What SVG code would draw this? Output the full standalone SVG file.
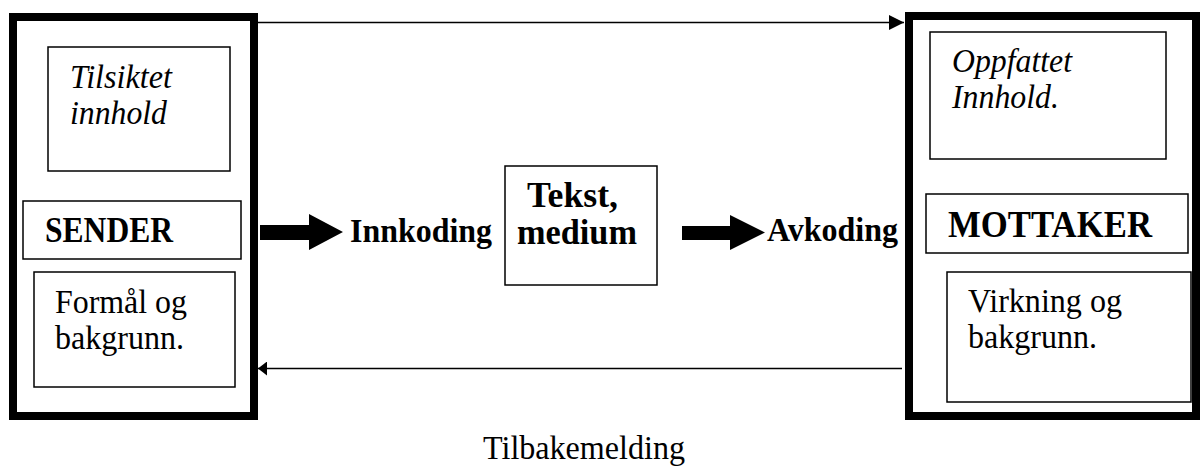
<svg xmlns="http://www.w3.org/2000/svg" width="1200" height="466" viewBox="0 0 1200 466">
<style>
.outer{fill:none;stroke:#000;stroke-width:8}
.box{fill:#fff;stroke:#000;stroke-width:1.5}
.t{font-family:"Liberation Serif","Times New Roman",serif;font-size:34px;fill:#000}
.i{font-style:italic}
.b{font-weight:bold}
.thin{stroke:#000;stroke-width:1.5;fill:none}
</style>
<defs>
<marker id="ah" markerWidth="15" markerHeight="15" refX="15" refY="7.5" orient="auto" markerUnits="userSpaceOnUse">
<path d="M0,0 L15,7.5 L0,15 Z" fill="#000"/>
</marker>
<marker id="ahs" markerWidth="9" markerHeight="14" refX="9" refY="7" orient="auto" markerUnits="userSpaceOnUse">
<path d="M0,0 L9,7 L0,14 Z" fill="#000"/>
</marker>
</defs>
<rect width="1200" height="466" fill="#fff"/>
<g id="sender">
<rect class="outer" x="13" y="17" width="241" height="399"/>
<g id="tilsiktet">
<rect class="box" x="48" y="47" width="182" height="124"/>
<text class="t i" x="70" y="88" textLength="102" lengthAdjust="spacingAndGlyphs">Tilsiktet</text>
<text class="t i" x="70" y="124" textLength="97" lengthAdjust="spacingAndGlyphs">innhold</text>
</g>
<g id="sender-label">
<rect class="box" x="23" y="201" width="218" height="58"/>
<text class="t b" x="45" y="242" style="font-size:35px" textLength="128" lengthAdjust="spacingAndGlyphs">SENDER</text>
</g>
<g id="formaal">
<rect class="box" x="34" y="272" width="201" height="115"/>
<text class="t" x="55" y="313" textLength="132" lengthAdjust="spacingAndGlyphs">Formål og</text>
<text class="t" x="55" y="349" textLength="129" lengthAdjust="spacingAndGlyphs">bakgrunn.</text>
</g>
</g>
<g id="mottaker">
<rect class="outer" x="909" y="16" width="287" height="400"/>
<g id="oppfattet">
<rect class="box" x="930" y="32" width="236" height="127"/>
<text class="t i" x="952" y="72" textLength="120" lengthAdjust="spacingAndGlyphs">Oppfattet</text>
<text class="t i" x="952" y="108" textLength="107" lengthAdjust="spacingAndGlyphs">Innhold.</text>
</g>
<g id="mottaker-label">
<rect class="box" x="926" y="194" width="262" height="59"/>
<text class="t b" x="948" y="237" style="font-size:38px" textLength="204" lengthAdjust="spacingAndGlyphs">MOTTAKER</text>
</g>
<g id="virkning">
<rect class="box" x="947" y="272" width="244" height="130"/>
<text class="t" x="968" y="312" textLength="154" lengthAdjust="spacingAndGlyphs">Virkning og</text>
<text class="t" x="968" y="348" textLength="129" lengthAdjust="spacingAndGlyphs">bakgrunn.</text>
</g>
</g>
<g id="tekst">
<rect class="box" x="505" y="166" width="152" height="119"/>
<text class="t b" x="527" y="207" style="font-size:36px" textLength="91" lengthAdjust="spacingAndGlyphs">Tekst,</text>
<text class="t b" x="517" y="244" style="font-size:36px" textLength="120" lengthAdjust="spacingAndGlyphs">medium</text>
</g>
<g id="innkoding">
<text class="t b" x="350" y="242" textLength="142" lengthAdjust="spacingAndGlyphs">Innkoding</text>
</g>
<g id="avkoding">
<text class="t b" x="767" y="241" textLength="131" lengthAdjust="spacingAndGlyphs">Avkoding</text>
</g>
<g id="tilbakemelding">
<text class="t" x="483" y="459" style="font-size:33px" textLength="202" lengthAdjust="spacingAndGlyphs">Tilbakemelding</text>
</g>
<g id="connectors">
<line class="thin" x1="258" y1="22.5" x2="904" y2="22.5" marker-end="url(#ah)"/>
<line class="thin" x1="902" y1="368.5" x2="258" y2="368.5" marker-end="url(#ahs)"/>
<path d="M260,225 L309,225 L309,214 L343,232 L309,250 L309,240 L260,240 Z" fill="#000"/>
<path d="M682,226 L730,226 L730,215 L765,232.5 L730,250 L730,240 L682,240 Z" fill="#000"/>
</g>
</svg>
